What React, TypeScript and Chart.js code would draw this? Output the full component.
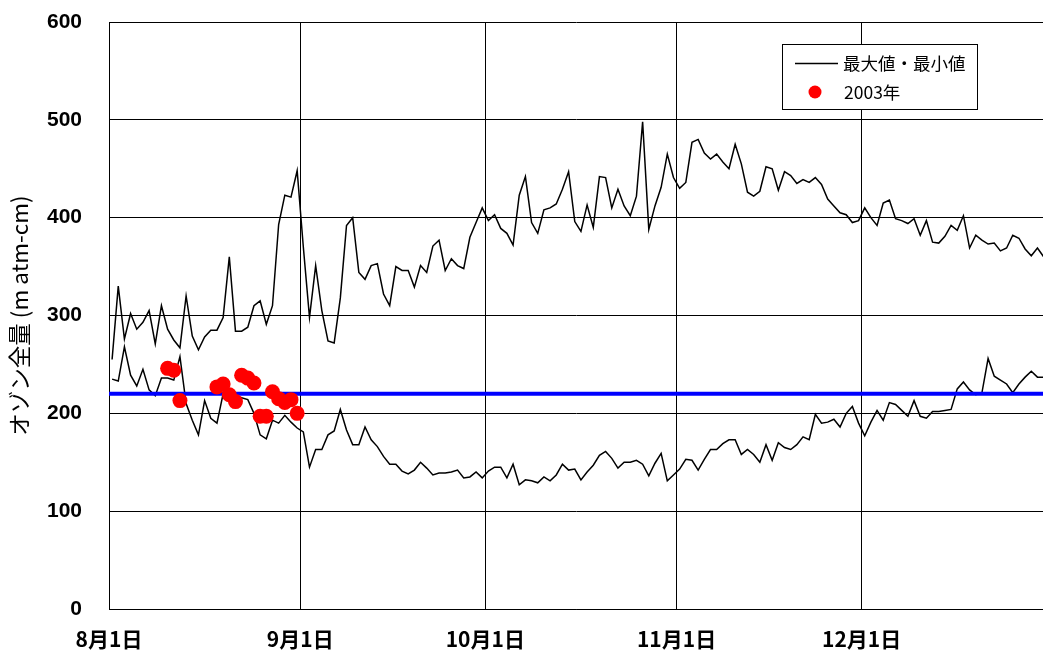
import React, { useEffect, useRef } from "react";
import { Chart, registerables } from "chart.js";

Chart.register(...registerables);

// ---- data ----
const monthTickDays = [0, 31, 61, 92, 122];
const monthTickLabels = ["8月1日", "9月1日", "10月1日", "11月1日", "12月1日"];
const yTickMin = 0;
const yTickMax = 600;
const yTickStep = 100;
const xAxisEnd = 151.4;

const rangeLabel = "最大値・最小値";
const obsLabel = "2003年";
const yTitle = "オゾン全量 (m atm-cm)";

const maxValues = [
  255, 330, 276, 302, 286, 293, 305, 271, 310, 286,
  275, 267, 320, 279, 265, 278, 285, 285, 298, 360,
  284, 284, 288, 310, 315, 291, 310, 393, 423, 421,
  448, 370, 298, 351, 305, 274, 272, 318, 392, 400,
  344, 337, 351, 353, 322, 310, 350, 346, 346, 329,
  351, 344, 371, 377, 346, 358, 351, 348, 380, 395,
  410, 397, 403, 389, 384, 372, 423, 442, 395, 384,
  408, 410, 414, 429, 447, 396, 386, 413, 390, 442,
  441, 410, 429, 412, 402, 422, 498, 388, 412, 431,
  465, 441, 430, 436, 477, 480, 466, 460, 465, 457,
  450, 475, 455, 426, 422, 427, 452, 450, 428, 447,
  443, 435, 439, 436, 441, 434, 419, 412, 405, 403,
  395, 397, 410, 400, 392, 415, 418, 399, 397, 394,
  399, 382, 397, 375, 374, 381, 392, 387, 402, 369,
  382, 377, 373, 374, 366, 369, 382, 379, 368, 361,
  369, 360,
];

const minValues = [
  235, 233, 268, 239, 228, 245, 224, 218, 236, 236,
  234, 258, 210, 193, 178, 213, 195, 190, 220, 216,
  215, 216, 214, 200, 178, 174, 193, 190, 198, 191,
  185, 181, 145, 163, 163, 178, 182, 204, 183, 168,
  168, 186, 173, 166, 156, 148, 148, 141, 138, 142,
  150, 144, 137, 139, 139, 140, 142, 134, 135, 140,
  134, 141, 145, 145, 134, 148, 127, 132, 131, 129,
  135, 131, 137, 148, 142, 143, 132, 140, 147, 157,
  161, 154, 144, 150, 150, 152, 148, 136, 149, 159,
  131, 137, 143, 153, 152, 142, 153, 163, 163, 169,
  173, 173, 158, 163, 158, 150, 168, 152, 170, 165,
  163, 168, 176, 173, 199, 190, 191, 194, 186, 200,
  207, 190, 177, 191, 203, 193, 211, 209, 203, 197,
  213, 197, 195, 202, 202, 203, 204, 225, 232, 224,
  219, 221, 256, 238, 234, 230, 221, 230, 237, 243,
  237, 237,
];

const obsDays = [9, 10, 11, 17, 18, 19, 20, 21, 22, 23, 24, 25, 26, 27, 28, 29, 30];
const obsValues = [246, 244, 213, 227, 230, 219, 212, 239, 236, 231, 197, 197, 222, 215, 211, 214, 200];

const referenceValue = 220;

// ---- chart ----
const tickFont = { family: '"Liberation Sans", Arial, sans-serif', size: 21, weight: "bold" as const };
const jpFont = '"Noto Sans CJK JP", sans-serif';

const legendPlugin = {
  id: "boxLegend",
  afterDraw(chart: any) {
    const ctx = chart.ctx as CanvasRenderingContext2D;
    const x0 = 782, y0 = 44, w = 195, h = 65;
    ctx.save();
    ctx.fillStyle = "#ffffff";
    ctx.fillRect(x0, y0, w, h);
    ctx.strokeStyle = "#000000";
    ctx.lineWidth = 1;
    ctx.strokeRect(x0 + 0.5, y0 + 0.5, w, h);
    const rangeDs = chart.data.datasets[2];
    ctx.strokeStyle = rangeDs.borderColor;
    ctx.lineWidth = 1.5;
    ctx.beginPath();
    ctx.moveTo(795, 63.5);
    ctx.lineTo(838, 63.5);
    ctx.stroke();
    const obsDs = chart.data.datasets[0];
    ctx.fillStyle = obsDs.backgroundColor;
    ctx.beginPath();
    ctx.arc(815, 92, 6.5, 0, Math.PI * 2);
    ctx.fill();
    ctx.fillStyle = "#000000";
    ctx.font = `17.5px ${jpFont}`;
    ctx.textBaseline = "middle";
    ctx.textAlign = "left";
    ctx.fillText(rangeDs.label, 843, 63);
    ctx.fillText(obsDs.label, 844, 92);
    ctx.restore();
  },
};

const zeroPadding = (scale: any) => {
  scale.paddingTop = 0;
  scale.paddingBottom = 0;
  scale.paddingLeft = 0;
  scale.paddingRight = 0;
};

export default function App() {
  const canvasRef = useRef<HTMLCanvasElement>(null);

  useEffect(() => {
    if (!canvasRef.current) return;
    const dayX = maxValues.map((_, i) => i + 0.5);
    const chart = new Chart(canvasRef.current, {
      type: "line",
      data: {
        datasets: [
          {
            label: obsLabel,
            type: "scatter",
            data: obsDays.map((d, i) => ({ x: d + 0.5, y: obsValues[i] })),
            backgroundColor: "#ff0000",
            borderColor: "#ff0000",
            pointRadius: 7.5,
            pointBorderWidth: 0,
            showLine: false,
          } as any,
          {
            label: "基準",
            data: [
              { x: 0, y: referenceValue },
              { x: maxValues.length, y: referenceValue },
            ],
            borderColor: "#0000ff",
            borderWidth: 4,
            pointRadius: 0,
            fill: false,
          },
          {
            label: rangeLabel,
            data: dayX.map((x, i) => ({ x, y: maxValues[i] })),
            borderColor: "#000000",
            borderWidth: 1.5,
            pointRadius: 0,
            tension: 0,
            fill: false,
          },
          {
            label: rangeLabel,
            data: dayX.map((x, i) => ({ x, y: minValues[i] })),
            borderColor: "#000000",
            borderWidth: 1.5,
            pointRadius: 0,
            tension: 0,
            fill: false,
          },
        ],
      },
      options: {
        animation: false,
        responsive: false,
        devicePixelRatio: 1,
        layout: { autoPadding: false, padding: { top: 22, right: 0, bottom: 0, left: 0 } },
        plugins: {
          legend: { display: false },
          tooltip: { enabled: false },
        },
        scales: {
          x: {
            type: "linear",
            min: 0,
            max: xAxisEnd,
            afterBuildTicks: (scale: any) => {
              scale.ticks = monthTickDays.map((v) => ({ value: v }));
            },
            afterFit: (scale: any) => {
              scale.height = 46;
              zeroPadding(scale);
            },
            ticks: {
              autoSkip: false,
              maxRotation: 0,
              padding: 17,
              color: "#000",
              font: { family: jpFont, size: 21, weight: "bold" },
              callback: (value: any) => {
                const idx = monthTickDays.indexOf(Number(value));
                return idx >= 0 ? monthTickLabels[idx] : "";
              },
            },
            grid: { color: "#000", lineWidth: 1, drawTicks: false },
            border: { display: true, color: "#000", width: 1 },
          },
          y: {
            min: yTickMin,
            max: yTickMax,
            afterFit: (scale: any) => {
              scale.width = 109;
              zeroPadding(scale);
            },
            ticks: {
              stepSize: yTickStep,
              padding: 27,
              color: "#000",
              font: tickFont,
            },
            title: {
              display: true,
              text: yTitle,
              color: "#000",
              font: { family: jpFont, size: 22.5 },
              padding: { top: 6, bottom: 0 },
            },
            grid: { color: "#000", lineWidth: 1, drawTicks: false },
            border: { display: true, color: "#000", width: 1 },
          },
        },
      },
      plugins: [legendPlugin],
    });
    return () => chart.destroy();
  }, []);

  return (
    <div style={{ position: "absolute", left: 0, top: 0, width: 1043, height: 655, background: "#fff" }}>
      <canvas ref={canvasRef} width={1043} height={655} style={{ display: "block" }} />
    </div>
  );
}
